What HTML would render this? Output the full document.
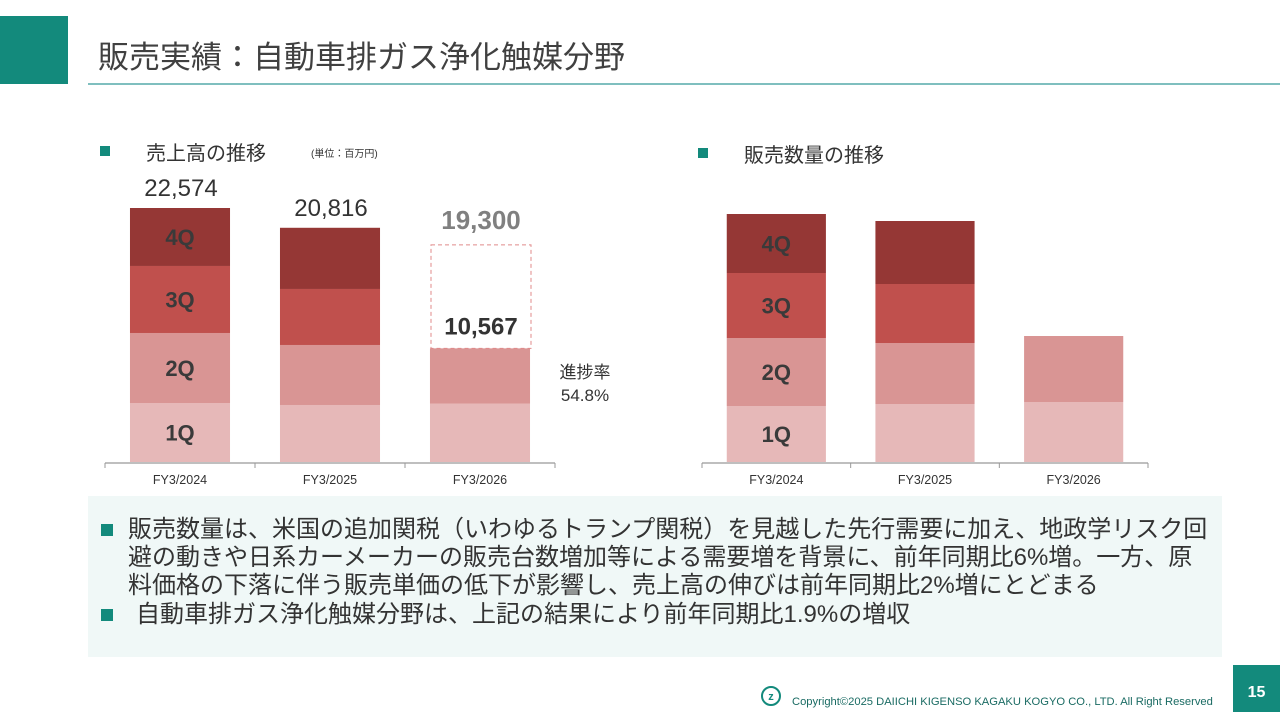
<!DOCTYPE html>
<html lang="ja"><head><meta charset="utf-8">
<style>
body{margin:0;width:1280px;height:720px;position:relative;background:#fff;font-family:"Liberation Sans","Noto Sans CJK JP",sans-serif;color:#333;overflow:hidden}
.a{position:absolute;white-space:nowrap}
.sq{position:absolute;width:10px;height:10px;background:#138a7c}
.ln{font-size:24px;line-height:28px;color:#333}
</style></head><body>
<div class="a" style="left:0;top:16px;width:68px;height:68px;background:#138a7c"></div>
<div class="a" style="left:98px;top:32px;font-size:31px;color:#404040">販売実績：自動車排ガス浄化触媒分野</div>
<div class="a" style="left:88px;top:83px;width:1192px;height:2px;background:#7fbfbf"></div>

<div class="sq" style="left:100px;top:146px"></div>
<div class="a" style="left:146px;top:137px;font-size:20px">売上高の推移</div>
<div class="a" style="left:311px;top:145px;font-size:10px">(単位：百万円)</div>
<div class="sq" style="left:698px;top:148px"></div>
<div class="a" style="left:744px;top:139px;font-size:20px">販売数量の推移</div>

<svg class="a" style="left:0;top:0" width="1280" height="500" id="svg"></svg>

<div class="a" style="left:88px;top:496px;width:1134px;height:161px;background:#f0f8f7"></div>
<div class="sq" style="left:101px;top:524px;width:12px;height:12px"></div>
<div class="a ln" style="left:128px;top:516px">販売数量は、米国の追加関税（いわゆるトランプ関税）を見越した先行需要に加え、地政学リスク回</div>
<div class="a ln" style="left:128px;top:544px">避の動きや日系カーメーカーの販売台数増加等による需要増を背景に、前年同期比6%増。一方、原</div>
<div class="a ln" style="left:128px;top:572px">料価格の下落に伴う販売単価の低下が影響し、売上高の伸びは前年同期比2%増にとどまる</div>
<div class="sq" style="left:101px;top:609px;width:12px;height:12px"></div>
<div class="a ln" style="left:136px;top:601px">自動車排ガス浄化触媒分野は、上記の結果により前年同期比1.9%の増収</div>

<div class="a" style="left:761px;top:686px;width:20px;height:20px;border:2px solid #138a7c;border-radius:50%;font-size:11px;line-height:18px;text-align:center;color:#138a7c;font-weight:bold;box-sizing:border-box">z</div>
<div class="a" style="left:792px;top:696px;font-size:11.2px;color:#1a6b63">Copyright©2025 DAIICHI KIGENSO KAGAKU KOGYO CO., LTD. All Right Reserved</div>
<div class="a" style="left:1233px;top:665px;width:47px;height:47px;background:#138a7c;color:#fff;font-weight:bold;font-size:16px;line-height:56px;text-align:center">15</div>

<script>
const years = ["FY3/2024","FY3/2025","FY3/2026"];
const salesQ1 = [5244, 5067, 5200];
const salesQ2 = [6222, 5333, 4900];
const salesQ3 = [5956, 4978, null];
const salesQ4 = [5152, 5438, null];
const salesTotals = ["22,574","20,816","10,567"];
const salesForecast = 19300;
const volQ1 = [56, 58, 60];
const volQ2 = [68, 61, 66];
const volQ3 = [65, 59, null];
const volQ4 = [59, 63, null];
const qLabels = ["1Q","2Q","3Q","4Q"];
const colors = ["#e6b8b8","#d99594","#c0504d","#953735"];
const NS="http://www.w3.org/2000/svg";
const svg=document.getElementById('svg');
function mk(t,a,name){const e=document.createElementNS(NS,t);for(const k in a)e.setAttribute(k,a[k]);


svg.appendChild(e);return e;}
function txt(x,y,s,size,fill,w,name){const e=mk('text',{x:x,y:y,'text-anchor':'middle','font-size':size,fill:fill,'font-weight':w||'normal','font-family':'"Liberation Sans","Noto Sans CJK JP",sans-serif'},name);e.textContent=s;return e;}
function chart(x0,x1,base,scale,series,labelsOn,prefix){
  const band=(x1-x0)/years.length, bw=band*0.667;
  const y=v=>base-v*scale;
  mk('line',{x1:x0,y1:base+1,x2:x1,y2:base+1,stroke:'#999','stroke-width':1.2},prefix+'x-axis');
  for(let i=0;i<=years.length;i++){const tx=x0+band*i;mk('line',{x1:tx,y1:base+1,x2:tx,y2:base+6,stroke:'#999'},prefix+'x-tick');}
  const tops=[];
  years.forEach((yr,i)=>{
    const cx=x0+band*(i+0.5);let acc=0;
    series.forEach((s,q)=>{const v=s[i];if(v==null)return;
      mk('rect',{x:cx-bw/2,y:y(acc+v),width:bw,height:v*scale,fill:colors[q]},prefix+'bar-'+qLabels[q].toLowerCase()+'-'+i);
      if(labelsOn&&i===0) txt(cx,(y(acc)+y(acc+v))/2+8,qLabels[q],22,'#3a3a3a','bold',prefix+'segment-label');
      acc+=v;});
    tops.push(y(acc));
    txt(cx,base+22,yr,12.5,'#333','normal',prefix+'x-label');
  });
  return {tops,bw,band};
}
const sScale=254/22574;
const L=chart(105,555,462,sScale,[salesQ1,salesQ2,salesQ3,salesQ4],true,'sales-');
const fy=462-salesForecast*sScale;
mk('rect',{x:431,y:fy,width:100,height:L.tops[2]-fy,fill:'none',stroke:'#e08a8a','stroke-dasharray':'4,3'},'forecast-box');
txt(181,L.tops[0]-12,salesTotals[0],24,'#333','normal','total-label');
txt(331,L.tops[1]-12,salesTotals[1],24,'#333','normal','total-label');
txt(481,fy-16,"19,300",26,'#808080','bold','forecast-label');
txt(481,L.tops[2]-14,salesTotals[2],24,'#333','bold','h1-total-label');
txt(585,378,"進捗率",17,'#333','normal','progress-label');
txt(585,401,"54.8%",17,'#333','normal','progress-value');
chart(702,1148,462,1,[volQ1,volQ2,volQ3,volQ4],true,'volume-');
</script>
</body></html>
